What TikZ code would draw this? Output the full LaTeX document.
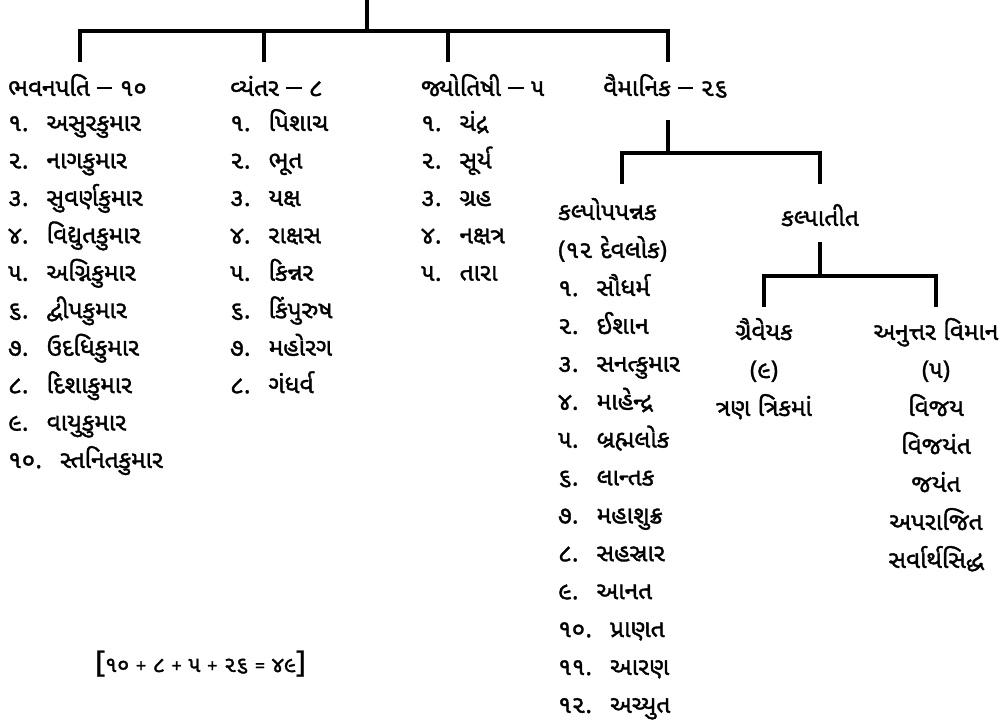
\documentclass[tikz,border=0pt]{standalone}
\usepackage{fontspec}
\setmainfont[Script=Gujarati,FakeBold=1.4]{Noto Sans Gujarati UI}
\newfontfamily\lat[FakeBold=1.0]{Noto Sans}
\newcommand{\dsh}{\hspace{0.3em}\rule[0.27em]{0.62em}{0.085em}\hspace{0.3em}}
\newcommand{\lp}{{\lat (}}
\newcommand{\rp}{{\lat )}}
\newcommand{\op}[1]{\hspace{0.3em}{\lat\fontsize{18}{18}\selectfont #1}\hspace{0.3em}}
\newcommand{\itm}[2]{#1.\hspace{0.75em}#2}
\begin{document}
\begin{tikzpicture}[x=1pt,y=-1pt,
  tree/.style={line width=3.6pt, line join=miter},
  lbl/.style={inner sep=0pt, anchor=base west, font=\fontsize{24.5}{28}\selectfont},
  clbl/.style={inner sep=0pt, anchor=base, font=\fontsize{24.5}{28}\selectfont}]
\useasboundingbox (0,0) rectangle (1004,720);
% tree lines
\coordinate (root) at (367,0);
\coordinate (j0) at (367,31);
\coordinate (d1) at (80,62);
\coordinate (d2) at (264,62);
\coordinate (d3) at (448,62);
\coordinate (d4) at (668,62);
\draw[tree] (root) -- (j0);
\draw[tree] (d1) |- (j0) -| (d4);
\draw[tree] (d2) -- (d2 |- j0);
\draw[tree] (d3) -- (d3 |- j0);
% headings
\def\off{8}
\node[lbl] (bhav) at (8,88+\off) {ભવનપતિ\dsh ૧૦};
\node[lbl] (vyan) at (230,88+\off) {વ્યંતર\dsh ૮};
\node[lbl] (jyot) at (421,88+\off) {જ્યોતિષી\dsh ૫};
\node[lbl] (vaim) at (603,88+\off) {વૈમાનિક\dsh ૨૬};
% column 1
\foreach \n/\t [count=\k] in {૧/અસુરકુમાર,૨/નાગકુમાર,૩/સુવર્ણકુમાર,૪/વિદ્યુતકુમાર,૫/અગ્નિકુમાર,૬/દ્વીપકુમાર,૭/ઉદધિકુમાર,૮/દિશાકુમાર,૯/વાયુકુમાર,૧૦/સ્તનિતકુમાર}
  \node[lbl] (b\k) at (8,{123+37.45*(\k-1)+\off}) {\itm{\n}{\t}};
% column 2
\foreach \n/\t [count=\k] in {૧/પિશાચ,૨/ભૂત,૩/યક્ષ,૪/રાક્ષસ,૫/કિન્નર,૬/કિંપુરુષ,૭/મહોરગ,૮/ગંધર્વ}
  \node[lbl] (v\k) at (230,{123+37.45*(\k-1)+\off}) {\itm{\n}{\t}};
% column 3
\foreach \n/\t [count=\k] in {૧/ચંદ્ર,૨/સૂર્ય,૩/ગ્રહ,૪/નક્ષત્ર,૫/તારા}
  \node[lbl] (j\k) at (421,{123+37.45*(\k-1)+\off}) {\itm{\n}{\t}};
% vaimanik subtree
\coordinate (vt) at (668,120);
\coordinate (vj) at (668,153);
\coordinate (e1) at (622,184);
\coordinate (e2) at (820,184);
\draw[tree] (vt) -- (vj);
\draw[tree] (e1) |- (vj) -| (e2);
\node[lbl] (kalpo) at (558,212+\off) {કલ્પોપપન્નક};
\node[lbl] (dev) at (558,250+\off) {\lp{}૧૨ દેવલોક\rp};
\foreach \n/\t [count=\k] in {૧/સૌધર્મ,૨/ઈશાન,૩/સનત્કુમાર,૪/માહેન્દ્ર,૫/બ્રહ્મલોક,૬/લાન્તક,૭/મહાશુક્ર,૮/સહસ્રાર,૯/આનત,૧૦/પ્રાણત,૧૧/આરણ,૧૨/અચ્યુત}
  \node[lbl] (k\k) at (558,{288+37.9*(\k-1)+\off}) {\itm{\n}{\t}};
\node[clbl] (kalpa) at (820,218+\off) {કલ્પાતીત};
\coordinate (kt) at (820,242);
\coordinate (kj) at (820,276);
\coordinate (f1) at (764,307);
\coordinate (f2) at (936,307);
\draw[tree] (kt) -- (kj);
\draw[tree] (f1) |- (kj) -| (f2);
\node[clbl] (grai) at (764,332+\off) {ગ્રૈવેયક};
\node[clbl] (grai2) at (764,370+\off) {\lp{}૯\rp};
\node[clbl] (grai3) at (764,408+\off) {ત્રણ ત્રિકમાં};
\foreach \t [count=\k] in {અનુત્તર વિમાન,{\lp{}૫\rp},વિજય,વિજયંત,જયંત,અપરાજિત,સર્વાર્થસિદ્ધ}
  \node[clbl] (a\k) at (936,{332+38*(\k-1)+\off}) {\t};
% sum
\node[inner sep=0pt, anchor=base west, font=\fontsize{22}{26}\selectfont] (sum) at (95,664+\off) {{\lat\fontsize{30}{30}\selectfont[}૧૦\op{+}૮\op{+}૫\op{+}૨૬\op{=}૪૯{\lat\fontsize{30}{30}\selectfont]}};
\end{tikzpicture}
\end{document}
